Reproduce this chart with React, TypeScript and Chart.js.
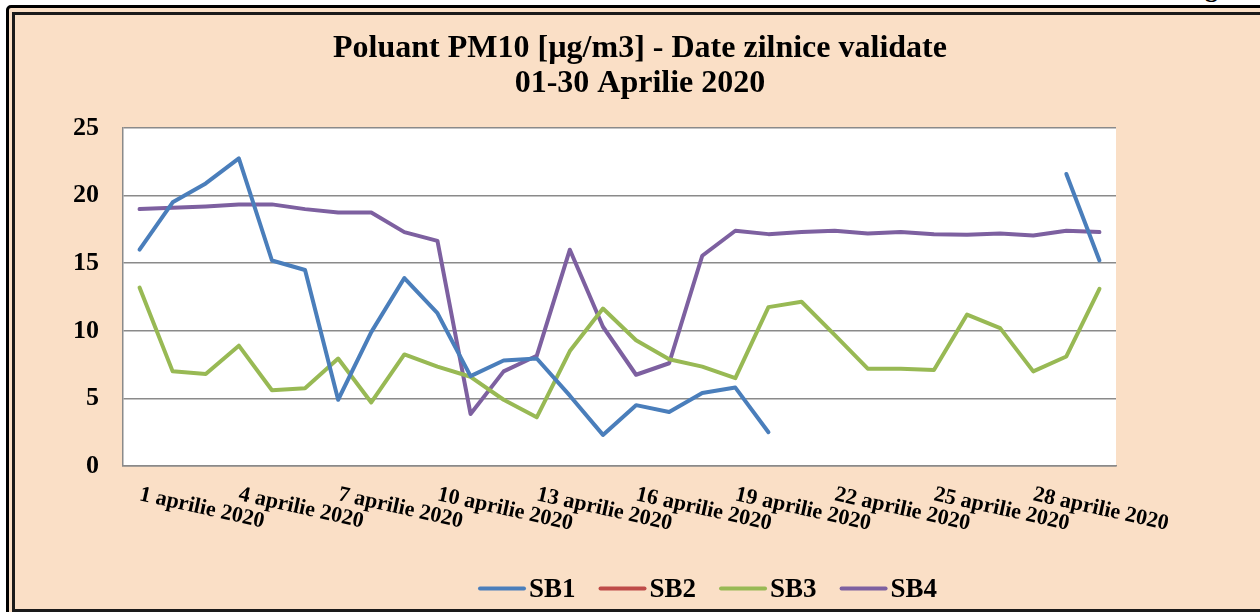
import React, { useEffect, useRef } from 'react';
import { Chart, registerables } from 'chart.js';

Chart.register(...registerables);

const FONT = '"Liberation Serif", "Times New Roman", serif';
const PEACH = '#FADFC6';
const GRID = '#8a8a8a';

const titleLines = ['Poluant PM10 [µg/m3] - Date zilnice validate', '01-30 Aprilie 2020'];

const days = [
  '1 aprilie 2020', '2 aprilie 2020', '3 aprilie 2020', '4 aprilie 2020', '5 aprilie 2020',
  '6 aprilie 2020', '7 aprilie 2020', '8 aprilie 2020', '9 aprilie 2020', '10 aprilie 2020',
  '11 aprilie 2020', '12 aprilie 2020', '13 aprilie 2020', '14 aprilie 2020', '15 aprilie 2020',
  '16 aprilie 2020', '17 aprilie 2020', '18 aprilie 2020', '19 aprilie 2020', '20 aprilie 2020',
  '21 aprilie 2020', '22 aprilie 2020', '23 aprilie 2020', '24 aprilie 2020', '25 aprilie 2020',
  '26 aprilie 2020', '27 aprilie 2020', '28 aprilie 2020', '29 aprilie 2020', '30 aprilie 2020',
];

const labelEvery = 3;
const yMin = 0;
const yMax = 25;
const yStep = 5;

const seriesNames = ['SB1', 'SB2', 'SB3', 'SB4'];
const seriesColors = ['#4A7EBB', '#BE4B48', '#98B954', '#7D60A0'];

const sb1: (number | null)[] = [
  16.0, 19.5, 20.9, 22.75, 15.2, 14.5, 4.9, 9.9, 13.9, 11.3,
  6.65, 7.8, 7.95, 5.2, 2.3, 4.5, 4.0, 5.4, 5.8, 2.5,
  null, null, null, null, null, null, null, null, 21.6, 15.2,
];
const sb2: (number | null)[] = [
  null, null, null, null, null, null, null, null, null, null,
  null, null, null, null, null, null, null, null, null, null,
  null, null, null, null, null, null, null, null, null, null,
];
const sb3: (number | null)[] = [
  13.2, 7.0, 6.8, 8.9, 5.6, 5.75, 7.95, 4.7, 8.25, 7.35,
  6.6, 4.9, 3.6, 8.5, 11.65, 9.3, 7.9, 7.35, 6.5, 11.75,
  12.15, 9.7, 7.2, 7.2, 7.1, 11.2, 10.2, 7.0, 8.1, 13.1,
];
const sb4: (number | null)[] = [
  19.0, 19.1, 19.2, 19.35, 19.35, 19.0, 18.75, 18.75, 17.3, 16.65,
  3.85, 7.0, 8.15, 16.0, 10.3, 6.75, 7.6, 15.55, 17.4, 17.15,
  17.3, 17.4, 17.2, 17.3, 17.15, 17.1, 17.2, 17.05, 17.4, 17.3,
];

const seriesData = [sb1, sb2, sb3, sb4];

const overlayPlugin = {
  id: 'overlay',
  beforeDraw(chart: any) {
    const { ctx, chartArea } = chart;
    ctx.save();
    ctx.fillStyle = '#ffffff';
    ctx.fillRect(chartArea.left, chartArea.top, chartArea.right - chartArea.left, chartArea.bottom - chartArea.top);
    ctx.restore();
  },
  afterDraw(chart: any) {
    const { ctx } = chart;
    ctx.save();
    ctx.fillStyle = '#000';

    // title
    ctx.font = `bold 32px ${FONT}`;
    ctx.textAlign = 'center';
    ctx.textBaseline = 'alphabetic';
    ctx.fillText(titleLines[0], 640, 57);
    ctx.fillText(titleLines[1], 640, 92);

    // x labels (rotated clockwise, starting at tick)
    const xs = chart.scales.x;
    ctx.font = `bold 22px ${FONT}`;
    ctx.textAlign = 'left';
    days.forEach((d, i) => {
      if (i % labelEvery !== 0) return;
      const x = xs.getPixelForValue(i);
      ctx.save();
      ctx.translate(x - 1, 500);
      ctx.rotate((12.5 * Math.PI) / 180);
      ctx.fillText(d, 0, 0);
      ctx.restore();
    });

    // legend
    ctx.font = `bold 27px ${FONT}`;
    let lx = 478;
    const ly = 588.5;
    chart.data.datasets.forEach((ds: any) => {
      ctx.strokeStyle = ds.borderColor;
      ctx.lineWidth = 4;
      ctx.lineCap = 'round';
      ctx.beginPath();
      ctx.moveTo(lx + 2, ly);
      ctx.lineTo(lx + 46, ly);
      ctx.stroke();
      ctx.fillStyle = '#000';
      ctx.fillText(ds.label, lx + 51, 597);
      lx += 51 + ctx.measureText(ds.label).width + 23;
    });
    ctx.restore();
  },
};

export default function App() {
  const canvasRef = useRef<HTMLCanvasElement | null>(null);

  useEffect(() => {
    if (!canvasRef.current) return;
    const chart = new Chart(canvasRef.current, {
      type: 'line',
      data: {
        labels: days,
        datasets: seriesNames.map((name, i) => ({
          label: name,
          data: seriesData[i],
          borderColor: seriesColors[i],
          backgroundColor: seriesColors[i],
          borderWidth: 4,
          pointRadius: 0,
          pointHoverRadius: 0,
          tension: 0,
          spanGaps: false,
          borderJoinStyle: 'round' as const,
          borderCapStyle: 'round' as const,
          fill: false,
        })),
      },
      options: {
        responsive: false,
        animation: false,
        events: [],
        layout: { padding: { top: 128, right: 144, left: 0, bottom: 0 } },
        plugins: {
          legend: { display: false },
          title: { display: false },
          tooltip: { enabled: false },
        },
        scales: {
          x: {
            type: 'category',
            offset: true,
            grid: { display: false, drawTicks: false },
            border: { display: true, color: GRID, width: 1.5 },
            ticks: { display: false },
            afterFit: (s: any) => {
              s.height = 146;
            },
          },
          y: {
            min: yMin,
            max: yMax,
            grid: { color: GRID, lineWidth: 1.5, drawTicks: false },
            border: { display: true, color: GRID, width: 1.5 },
            ticks: {
              stepSize: yStep,
              padding: 24,
              color: '#000',
              font: { family: FONT, size: 26, weight: 'bold' },
            },
            afterFit: (s: any) => {
              s.width = 123;
            },
          },
        },
      },
      plugins: [overlayPlugin],
    });
    return () => chart.destroy();
  }, []);

  return (
    <div style={{ position: 'relative', width: 1260, height: 612, overflow: 'hidden', background: '#fff' }}>
      <style>{'body{margin:0;}'}</style>
      <span
        style={{
          position: 'absolute',
          left: 1205,
          top: -24,
          fontFamily: FONT,
          fontWeight: 'bold',
          fontSize: 26,
          lineHeight: '26px',
          color: '#000',
        }}
      >
        g
      </span>
      <div
        style={{
          position: 'absolute',
          left: 6,
          top: 5,
          width: 1400,
          height: 800,
          border: '3px solid #000',
          borderRadius: 5,
          background: PEACH,
          boxSizing: 'border-box',
        }}
      />
      <div
        style={{
          position: 'absolute',
          left: 12,
          top: 12,
          width: 1400,
          height: 600,
          border: '3px solid #1a1a1a',
          background: PEACH,
          boxSizing: 'border-box',
        }}
      />
      <canvas
        ref={canvasRef}
        width={1260}
        height={612}
        style={{ position: 'absolute', left: 0, top: 0, width: 1260, height: 612 }}
      />
    </div>
  );
}
